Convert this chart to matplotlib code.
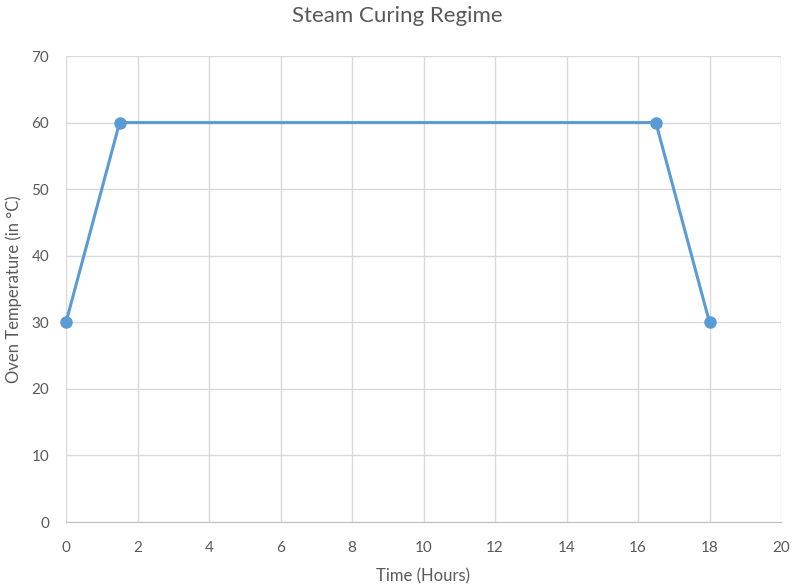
import matplotlib
matplotlib.use("Agg")
import matplotlib.pyplot as plt

time_hours = [0, 1.5, 16.5, 18]
temperature = [30, 60, 60, 30]
x_ticks = [0, 2, 4, 6, 8, 10, 12, 14, 16, 18, 20]
y_ticks = [0, 10, 20, 30, 40, 50, 60, 70]

plt.rcParams['font.family'] = ['Lato', 'DejaVu Sans']
text_color = '#595959'
grid_color = '#D9D9D9'
line_color = '#5B9BD5'

fig = plt.figure(figsize=(7.95, 5.88), dpi=100)
ax = fig.add_axes([66/795, 1-522/588, (781-66)/795, (522-56)/588])

ax.plot(time_hours, temperature, color=line_color, linewidth=2.2, marker='o',
        markersize=8, markerfacecolor=line_color, markeredgecolor=line_color, zorder=3,
        clip_on=False)

ax.set_xlim(0, 20)
ax.set_ylim(0, 70)
ax.set_xticks(x_ticks)
ax.set_yticks(y_ticks)
ax.grid(True, color=grid_color, linewidth=1)
ax.set_axisbelow(True)
for s in ['top', 'right', 'left']:
    ax.spines[s].set_visible(False)
ax.spines['bottom'].set_color('#BFBFBF')
ax.tick_params(axis='x', length=0, colors=text_color, labelsize=11, pad=14)
ax.tick_params(axis='y', length=0, colors=text_color, labelsize=11, pad=12)

ax.set_xlabel('Time (Hours)', color=text_color, fontsize=12, labelpad=9)
ax.set_ylabel('Oven Temperature (in °C)', color=text_color, fontsize=12, labelpad=7)
fig.suptitle('Steam Curing Regime', color=text_color, fontsize=16, y=0.99)

fig.savefig('out.png', dpi=100)
